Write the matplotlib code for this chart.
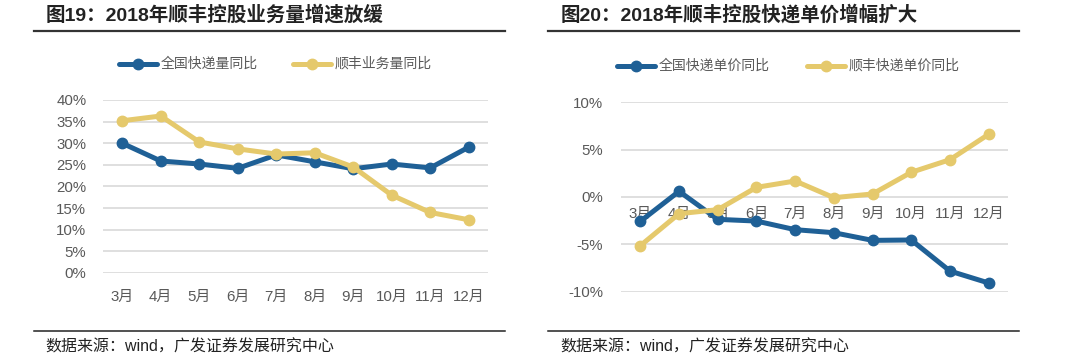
import matplotlib
matplotlib.use("Agg")
import matplotlib.pyplot as plt
from matplotlib.lines import Line2D

plt.rcParams['font.family'] = ['Liberation Sans', 'Noto Sans CJK SC', 'DejaVu Sans']

months = ["3月", "4月", "5月", "6月", "7月", "8月", "9月", "10月", "11月", "12月"]

# Chart 19: volume growth (%)
vol_national = [30.0, 25.9, 25.2, 24.2, 27.3, 25.7, 24.1, 25.2, 24.3, 29.1]
vol_sf = [35.2, 36.3, 30.3, 28.7, 27.5, 27.8, 24.5, 18.0, 14.0, 12.3]

# Chart 20: unit price growth (%)
price_national = [-2.57, 0.6, -2.36, -2.54, -3.45, -3.77, -4.58, -4.54, -7.82, -9.08]
price_sf = [-5.14, -1.76, -1.34, 1.02, 1.69, -0.07, 0.32, 2.61, 3.94, 6.62]

title_left = "图19：2018年顺丰控股业务量增速放缓"
title_right = "图20：2018年顺丰控股快递单价增幅扩大"
legend_left = ["全国快递量同比", "顺丰业务量同比"]
legend_right = ["全国快递单价同比", "顺丰快递单价同比"]
source = "数据来源：wind，广发证券发展研究中心"

BLUE = "#1f6096"
YELLOW = "#e5c96c"
GRID = "#d9d9d9"
TXT = "#595959"

W, H = 1080, 357
fig = plt.figure(figsize=(W / 100, H / 100), dpi=100)
fig.patch.set_facecolor("white")


def fx(px):
    return px / W


def fy(py):
    return 1 - py / H


def style_axes(ax):
    for s in ax.spines.values():
        s.set_visible(False)
    ax.grid(axis="y", color=GRID, linewidth=1.2)
    ax.set_axisbelow(True)
    ax.tick_params(axis="both", length=0, labelsize=10.8, colors=TXT)
    ax.set_xlim(-0.5, len(months) - 0.5)
    ax.set_xticks(range(len(months)))
    ax.set_xticklabels(months)


def draw_series(ax, ys, color):
    ax.plot(range(len(ys)), ys, color=color, linewidth=3.6, marker="o",
            markersize=7.5, solid_capstyle="round", zorder=3)


# Left chart
ax1 = fig.add_axes([fx(103), fy(273), fx(488 - 103), (273 - 100) / H])
style_axes(ax1)
draw_series(ax1, vol_national, BLUE)
draw_series(ax1, vol_sf, YELLOW)
ax1.set_ylim(0, 40)
ax1.set_yticks(range(0, 41, 5))
ax1.set_yticklabels([f"{v}%" for v in range(0, 41, 5)])
ax1.tick_params(axis="y", pad=12)
ax1.tick_params(axis="x", pad=12)

# Right chart
ax2 = fig.add_axes([fx(621), fy(291.7), fx(1008 - 621), (291.7 - 102.3) / H])
style_axes(ax2)
draw_series(ax2, price_national, BLUE)
draw_series(ax2, price_sf, YELLOW)
ax2.set_ylim(-10, 10)
ax2.set_yticks(range(-10, 11, 5))
ax2.set_yticklabels([f"{v}%" for v in range(-10, 11, 5)])
ax2.spines["bottom"].set_position(("data", 0))
ax2.tick_params(axis="y", pad=13)
ax2.tick_params(axis="x", pad=7)

# Legends
def legend_items(x0, y, labels, gap):
    for i, (lab, col) in enumerate(zip(labels, [BLUE, YELLOW])):
        xs = x0 + i * gap
        fig.add_artist(Line2D([fx(xs), fx(xs + 38)], [fy(y), fy(y)], color=col,
                              linewidth=3.6, solid_capstyle="round"))
        fig.add_artist(Line2D([fx(xs + 19)], [fy(y)], color=col, marker="o",
                              markersize=7.5, linestyle="none"))
        fig.text(fx(xs + 42), fy(y), lab, fontsize=10, color=TXT,
                 va="center", ha="left")

legend_items(119, 64, legend_left, 174)
legend_items(617, 66, legend_right, 190)

# Titles and rules
fig.text(fx(46), fy(15), title_left, fontsize=14, fontweight="bold",
         color="#222222", va="center", ha="left")
fig.text(fx(561), fy(15), title_right, fontsize=14, fontweight="bold",
         color="#222222", va="center", ha="left")
fig.add_artist(Line2D([fx(34), fx(505)], [fy(31), fy(31)], color="#333333", linewidth=1.6))
fig.add_artist(Line2D([fx(548), fx(1019)], [fy(31), fy(31)], color="#333333", linewidth=1.6))

fig.add_artist(Line2D([fx(34), fx(505)], [fy(331), fy(331)], color="#222222", linewidth=1.1))
fig.add_artist(Line2D([fx(548), fx(1019)], [fy(331), fy(331)], color="#222222", linewidth=1.1))
fig.text(fx(45), fy(347), source, fontsize=11.5, color="#222222", va="center", ha="left")
fig.text(fx(560), fy(347), source, fontsize=11.5, color="#222222", va="center", ha="left")

fig.savefig("out.png", dpi=100, facecolor="white")
